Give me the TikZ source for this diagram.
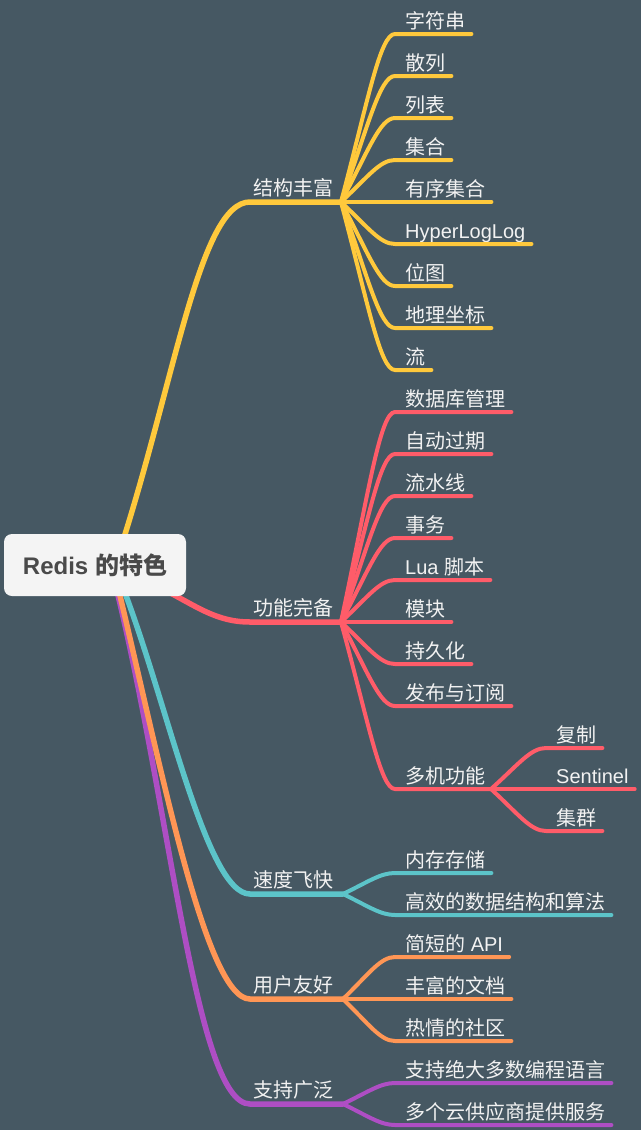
\documentclass[tikz,border=0pt]{standalone}
\usepackage{fontspec}
\setmainfont{Noto Sans CJK SC}
\newfontfamily\lat{Liberation Sans}
\pgfdeclarelayer{bg}
\pgfsetlayers{bg,main}
\definecolor{bgc}{HTML}{465863}
\definecolor{cy}{HTML}{FFC93C}
\definecolor{cr}{HTML}{FF5C69}
\definecolor{ct}{HTML}{5CC4C9}
\definecolor{co}{HTML}{FF9655}
\definecolor{cp}{HTML}{AE4EC4}
\definecolor{txt}{HTML}{F2F2F2}
\definecolor{rootfill}{HTML}{F4F4F4}
\definecolor{roottxt}{HTML}{4A4A4A}
\newcommand\leaf[8]{%
  \node[lbl, anchor=base west] (#5) at (#8,#6-6) {#7};
  \draw[leafline, #1] (#2) .. controls ({#3+0.5*(#8-10-#3)},{#4+0.6*(#6-#4)}) and ({#3+0.72*(#8-10-#3)},#6) .. (#8-10,#6) -- ([xshift=6pt,yshift=-6pt]#5.base east);
}
\begin{document}
\begin{tikzpicture}[x=1pt,y=-1pt,
  lbl/.style={text=txt, font=\fontsize{20}{24}\selectfont, inner sep=0pt},
  leafline/.style={line width=4pt, line cap=round},
  mainline/.style={line width=5.5pt, line cap=round}]
\useasboundingbox (0,0) rectangle (641,1130);
\begin{pgfonlayer}{bg}
\fill[bgc] (0,0) rectangle (641,1130);
\end{pgfonlayer}
\node[fill=rootfill, rounded corners=8pt, minimum width=182pt, minimum height=62pt, inner sep=0pt,
  font=\fontsize{24}{28}\selectfont\bfseries, text=roottxt] (root) at (95,565) {{\lat Redis }的特色};
% junctions
\coordinate (J1) at (341,202);
\coordinate (J2) at (341,622);
\coordinate (J3) at (343,894);
\coordinate (J4) at (343,999);
\coordinate (J5) at (343,1104);
\coordinate (J6) at (491,789);
% main branch labels
\node[lbl, anchor=base west] (b1) at (253,195) {结构丰富};
\node[lbl, anchor=base west] (b2) at (253,615) {功能完备};
\node[lbl, anchor=base west] (b3) at (253,887) {速度飞快};
\node[lbl, anchor=base west] (b4) at (253,992) {用户友好};
\node[lbl, anchor=base west] (b5) at (253,1097) {支持广泛};
\begin{pgfonlayer}{bg}
\draw[mainline, cy] (root.center) -- (120,550) .. controls (175,380) and (200,202) .. (250,202) -- (J1);
\draw[mainline, cr] (root.center) -- (140,578) .. controls (190,600) and (210,622) .. (250,622) -- (J2);
\draw[mainline, cp] (root.center) -- (113,575) .. controls (170,800) and (195,1104) .. (250,1104) -- (J5);
\draw[mainline, co] (root.center) -- (115,575) .. controls (160,760) and (205,999) .. (250,999) -- (J4);
\draw[mainline, ct] (root.center) -- (118,575) .. controls (165,690) and (205,894) .. (250,894) -- (J3);
\end{pgfonlayer}
% yellow leaves
\leaf{cy}{J1}{341}{202}{y1}{34}{字符串}{405}
\leaf{cy}{J1}{341}{202}{y2}{76}{散列}{405}
\leaf{cy}{J1}{341}{202}{y3}{118}{列表}{405}
\leaf{cy}{J1}{341}{202}{y4}{160}{集合}{405}
\leaf{cy}{J1}{341}{202}{y5}{202}{有序集合}{405}
\leaf{cy}{J1}{341}{202}{y6}{244}{{\lat HyperLogLog}}{405}
\leaf{cy}{J1}{341}{202}{y7}{286}{位图}{405}
\leaf{cy}{J1}{341}{202}{y8}{328}{地理坐标}{405}
\leaf{cy}{J1}{341}{202}{y9}{370}{流}{405}
% red leaves
\leaf{cr}{J2}{341}{622}{r1}{412}{数据库管理}{405}
\leaf{cr}{J2}{341}{622}{r2}{454}{自动过期}{405}
\leaf{cr}{J2}{341}{622}{r3}{496}{流水线}{405}
\leaf{cr}{J2}{341}{622}{r4}{538}{事务}{405}
\leaf{cr}{J2}{341}{622}{r5}{580}{{\lat Lua }脚本}{405}
\leaf{cr}{J2}{341}{622}{r6}{622}{模块}{405}
\leaf{cr}{J2}{341}{622}{r7}{664}{持久化}{405}
\leaf{cr}{J2}{341}{622}{r8}{706}{发布与订阅}{405}
\node[lbl, anchor=base west] (r9) at (405,783) {多机功能};
\draw[leafline, cr] (J2) .. controls (368.5,722.2) and (380.5,789) .. (395,789) -- (J6);
\leaf{cr}{J6}{491}{789}{s1}{748}{复制}{556}
\leaf{cr}{J6}{491}{789}{s2}{789}{{\lat Sentinel}}{556}
\leaf{cr}{J6}{491}{789}{s3}{831}{集群}{556}
% teal leaves
\leaf{ct}{J3}{343}{894}{t1}{873}{内存存储}{405}
\leaf{ct}{J3}{343}{894}{t2}{915}{高效的数据结构和算法}{405}
% orange leaves
\leaf{co}{J4}{343}{999}{o1}{957}{简短的{\lat\ API}}{405}
\leaf{co}{J4}{343}{999}{o2}{999}{丰富的文档}{405}
\leaf{co}{J4}{343}{999}{o3}{1041}{热情的社区}{405}
% purple leaves
\leaf{cp}{J5}{343}{1104}{p1}{1083}{支持绝大多数编程语言}{405}
\leaf{cp}{J5}{343}{1104}{p2}{1125}{多个云供应商提供服务}{405}
\end{tikzpicture}
\end{document}
